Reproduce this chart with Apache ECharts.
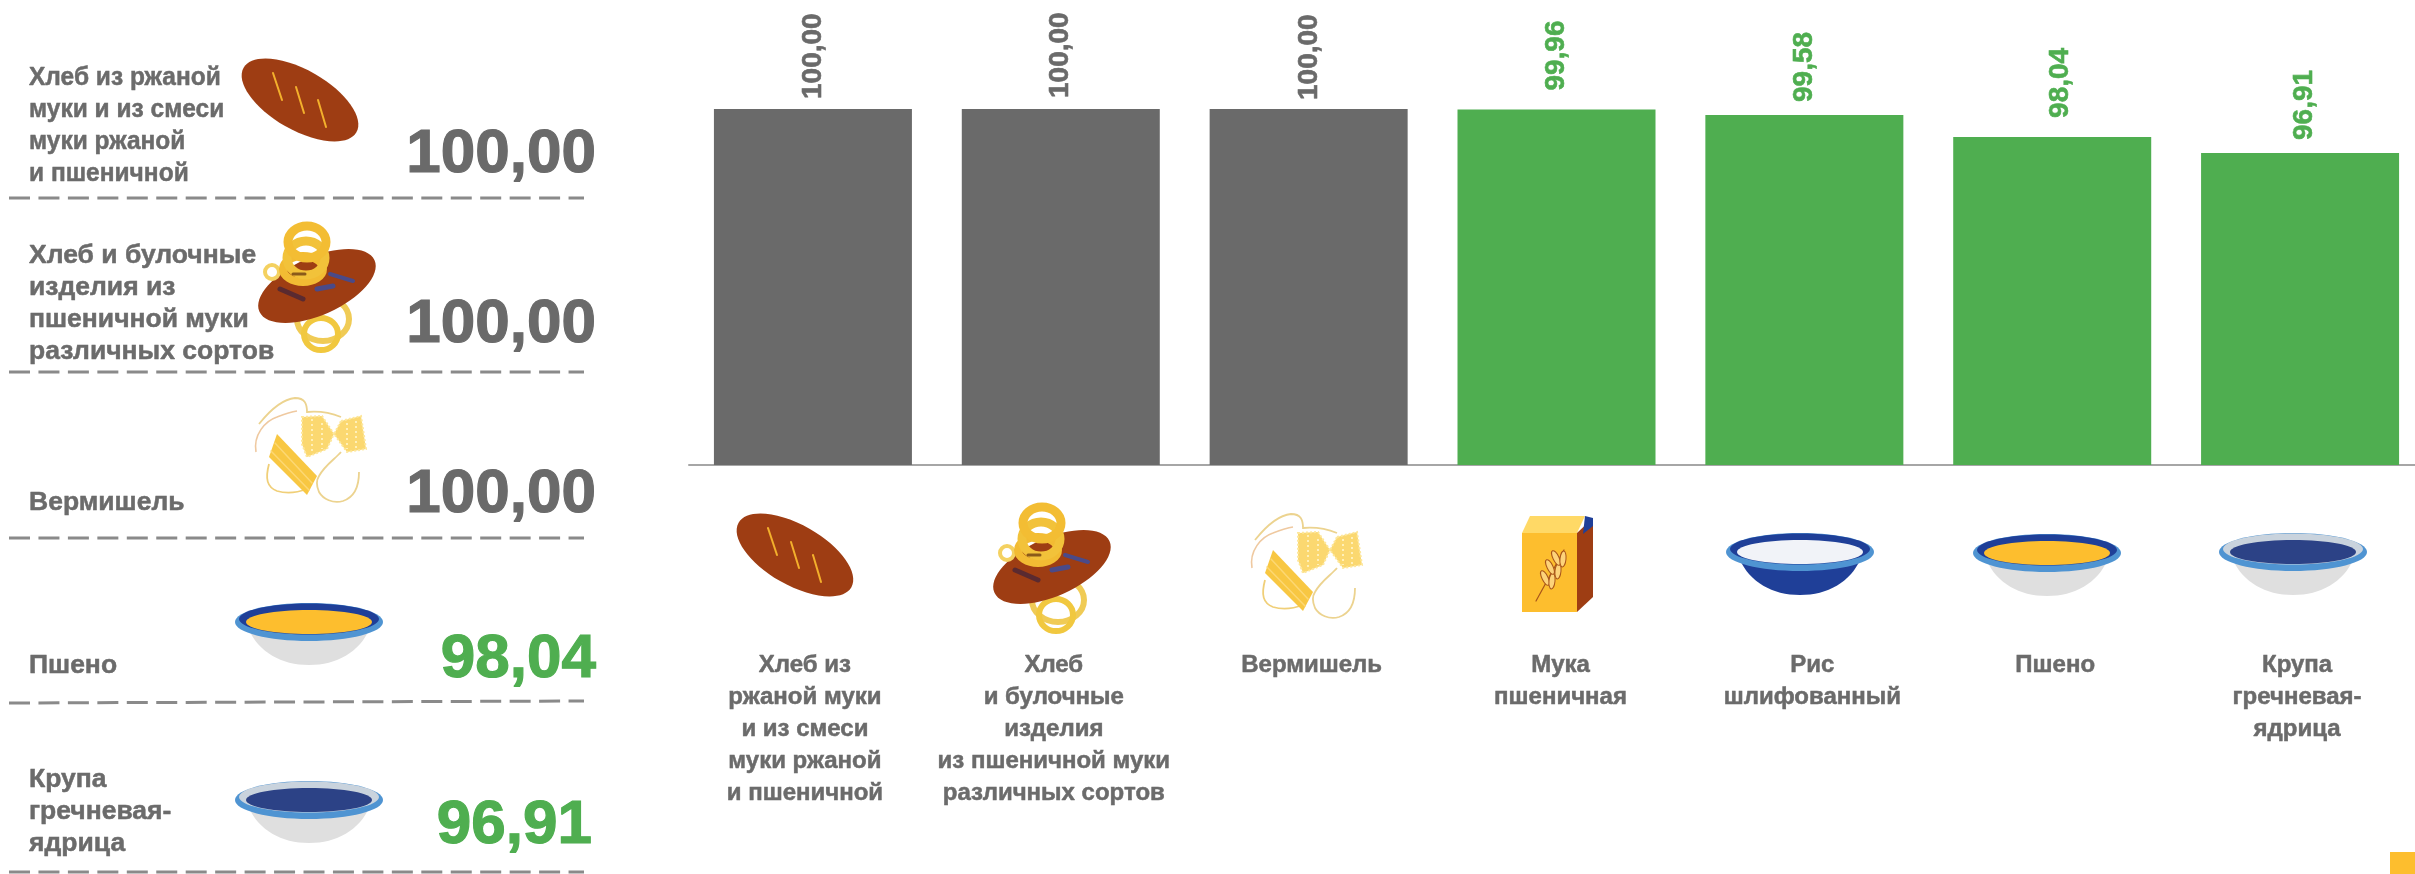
<!DOCTYPE html>
<html lang="ru">
<head>
<meta charset="utf-8">
<style>html,body{margin:0;padding:0;background:#fff}#c{width:2415px;height:874px}</style>
<script src="https://cdn.jsdelivr.net/npm/echarts@6/dist/echarts.min.js"></script>
</head>
<body>
<div id="c"></div>
<script>
const categories = [
  'Хлеб из\nржаной муки\nи из смеси\nмуки ржаной\nи пшеничной',
  'Хлеб\nи булочные\nизделия\nиз пшеничной муки\nразличных сортов',
  'Вермишель',
  'Мука\nпшеничная',
  'Рис\nшлифованный',
  'Пшено',
  'Крупа\nгречневая-\nядрица'
];
const values = [100.00, 100.00, 100.00, 99.96, 99.58, 98.04, 96.91];
const barIcons = ['bread', 'rolls', 'pasta', 'flour', 'rice', 'millet', 'buckwheat'];

const tableNames = [
  'Хлеб из ржаной\nмуки и из смеси\nмуки ржаной\nи пшеничной',
  'Хлеб и булочные\nизделия из\nпшеничной муки\nразличных сортов',
  'Вермишель',
  'Пшено',
  'Крупа\nгречневая-\nядрица'
];
const tableValues = [100.00, 100.00, 100.00, 98.04, 96.91];
const tableIcons = ['bread', 'rolls', 'pasta', 'millet', 'buckwheat'];

const GRAY = '#6a6a6a', GREEN = '#4fae50', TEXT = '#6b6b6b', ORANGE = '#fdbe2e';
const FONT = '"Liberation Sans", Arial, sans-serif';
const fmt = v => v.toFixed(2).replace('.', ',');
const tone = v => v >= 100 ? GRAY : GREEN;

// layout
const labelGaps = [10, 11, 9, 19, 13, 19, 13];
const labelNudge = [0, -1, 1, 0, 0, 8, 4];
const labelShift = [-8, -7, 3, 4, 8, 3, -3];
const barIconPos = [[795,555],[1052,567],[1305,565],[1558,564],[1800,552],[2047,553],[2293,552]];
const tableIconPos = [[300,100],[317,286],[309,449],[309,622],[309,800]];
const nameTop = [62, 240, 487, 650, 764];
const nameScale = [0.925, 1, 1, 1, 1];
const valueBase = [172, 342, 512, 677, 843];
const valueRight = [596, 596, 596, 596, 592];
const ruleY = [198, 372, 538, 703, 872];
const ruleEndY = [198, 372, 538, 701, 872];

let pathCount = 0;
function ell(cx, cy, rx, ry, fill, rot, extra) {
  return Object.assign({ type:'ellipse', x:cx, y:cy, rotation:rot||0, shape:{cx:0,cy:0,rx,ry},
    style:{fill} , silent:true}, extra||{});
}
function ring(cx, cy, rx, ry, stroke, w, rot) {
  return { type:'ellipse', x:cx, y:cy, rotation:rot||0, shape:{cx:0,cy:0,rx,ry},
    style:{fill:'none', stroke, lineWidth:w}, silent:true };
}
function path(d, style) {
  const name = 'iconPath' + (pathCount++);
  echarts.graphic.registerShape(name, echarts.graphic.extendPath(d, {}));
  return { type:name, style:style, silent:true };
}
function seg(x1,y1,x2,y2,stroke,w,dash) {
  return { type:'line', shape:{x1,y1,x2,y2}, style:{stroke,lineWidth:w,lineCap:dash?'butt':'round',lineDash:dash||null}, silent:true };
}
const icons = {
  bread() {
    return [
      ell(0,0,65,30,'#9e3d13',-0.52),
      seg(-27,-27,-18,0,'#f3b02c',2),
      seg(-4,-13,4,13,'#f3b02c',2),
      seg(18,0,26,27,'#f3b02c',2)
    ];
  },
  rolls() {
    return [
      ring(6,33,26,22,'#f0cb55',6),
      ring(4,48,17,16,'#f1c83f',6),
      ell(0,0,63,29,'#9e3d13',0.42),
      seg(-37,3,-14,13,'#5a2a30',5),
      seg(0,3,16,0,'#4a4a88',5),
      seg(13,-12,36,-5,'#4a4a88',4),
      ring(-45,-14,7,7,'#f4d160',4),
      ring(-14,-17,20,13,'#f2bb33',8),
      ring(-11,-28,19,17,'#f2c23a',9),
      ring(-10,-44,19,16,'#f3bd33',9),
      seg(-24,-12,-12,-12,'#8a5a1a',3)
    ];
  },
  pasta() {
    const n = '#ecd38f', p = '#efc9a0';
    return [
      path('M-50 -25C-38 -40 -25 -50 -14 -51C-4 -51 -2 -45 -2 -37C8 -38 22 -36 32 -32', {fill:'none',stroke:n,lineWidth:1.8}),
      path('M-53 3C-56 -14 -44 -28 -32 -32C-24 -35 -18 -37 -12 -38', {fill:'none',stroke:p,lineWidth:1.6}),
      path('M-40 15C-44 30 -42 38 -32 42C-22 45 -10 43 -2 40', {fill:'none',stroke:'#f0cf78',lineWidth:1.8}),
      path('M50 23C50 36 46 48 34 52C24 55 14 50 10 43C7 36 8 30 10 27C16 16 26 10 32 3', {fill:'none',stroke:n,lineWidth:1.8}),
      path('M-7 -32L13 -33L25 -15L18 0L-2 8L-7 -5Z', {fill:'#fbd870', stroke:'#fde79c', lineWidth:2, lineDash:[2,2]}),
      path('M32 -28L52 -33L57 0L38 3L25 -15Z', {fill:'#fbd870', stroke:'#fde79c', lineWidth:2, lineDash:[2,2]}),
      seg(3,-30,3,4,'#fff0b8',2,[2,3]),
      seg(13,-26,13,0,'#fff0b8',2,[2,3]),
      seg(38,-26,38,0,'#fff0b8',2,[2,3]),
      seg(47,-28,47,0,'#fff0b8',2,[2,3]),
      path('M-32 -15L8 27L-2 46L-40 8Z', {fill:'#f8c742'}),
      seg(-34,-6,3,34,'#fdd873',1.5),
      seg(-38,2,0,41,'#fdd873',1.5)
    ];
  },
  flour() {
    const leaf = {style:{fill:'#fdd37a',stroke:'#a8551a',lineWidth:1}};
    return [
      { type:'rect', shape:{x:-36,y:-31,width:55,height:79}, style:{fill:ORANGE}, silent:true },
      { type:'polygon', shape:{points:[[-36,-31],[-28,-48],[27,-48],[19,-31]]}, style:{fill:'#ffd966'}, silent:true },
      { type:'polygon', shape:{points:[[19,-31],[35,-46],[35,33],[19,48]]}, style:{fill:'#9e3d13'}, silent:true },
      { type:'polygon', shape:{points:[[27,-48],[35,-46],[35,-38],[25,-30]]}, style:{fill:'#1f3f98'}, silent:true },
      seg(-22,37,6,-14,'#a8551a',1.2),
      ell(-13,14,3,8,'#fdd37a',0.45,leaf),
      ell(-6,17,3,8,'#fdd37a',-0.1,leaf),
      ell(-8,3,3,8,'#fdd37a',0.45,leaf),
      ell(0,7,3,8,'#fdd37a',-0.1,leaf),
      ell(-2,-6,3,8,'#fdd37a',0.45,leaf),
      ell(5,-5,3,8,'#fdd37a',-0.1,leaf)
    ];
  },
  rice() { return bowl('#1f3f98', '#1f3f98', '#f1f3f8'); },
  millet() { return bowl('#dfdfdf', '#1f3f98', '#fdbe2e'); },
  buckwheat() { return bowl('#dfdfdf', '#c9d3dd', '#2c4286'); }
};
function bowl(body, back, food) {
  return [
    path('M-60 8C-50 30 -28 43 0 43C28 43 50 30 60 8Z', {fill:body}),
    ell(0,0,74,19,'#4f94d2'),
    ell(0,-3,70,15.5,back),
    ell(0,0,63,12,food)
  ];
}
function iconGroup(name, pos) {
  return { type:'group', x:pos[0], y:pos[1], silent:true, children: icons[name]() };
}

const elements = [];
barIcons.forEach((n, i) => elements.push(iconGroup(n, barIconPos[i])));
tableIcons.forEach((n, i) => elements.push(iconGroup(n, tableIconPos[i])));
tableNames.forEach((t, i) => {
  elements.push({ type:'text', x:29, y:nameTop[i], scaleX:nameScale[i], silent:true,
    style:{ text:t, fill:TEXT, font:'bold 26.5px '+FONT, lineHeight:32, textAlign:'left', textVerticalAlign:'top', stroke:TEXT, lineWidth:0.5 } });
  const c = tone(tableValues[i]);
  elements.push({ type:'text', x:valueRight[i], y:valueBase[i]-17, silent:true,
    style:{ text:fmt(tableValues[i]), fill:c, font:'bold 62px '+FONT, textAlign:'right', textVerticalAlign:'middle', stroke:c, lineWidth:1.2 } });
  elements.push({ type:'line', silent:true, shape:{x1:9,y1:ruleY[i],x2:584,y2:ruleEndY[i]},
    style:{ stroke:'#8a8a8a', lineWidth:3, lineDash:[21,8.45] } });
});
elements.push({ type:'rect', silent:true, shape:{x:2390,y:852,width:25,height:22}, style:{fill:ORANGE} });

const rich = {};
labelShift.forEach((s, i) => {
  rich['c'+i] = { fontFamily:FONT, fontWeight:'bold', fontSize:24, lineHeight:32, color:TEXT,
    textBorderColor:TEXT, textBorderWidth:0.5,
    padding: s > 0 ? [0,0,0,2*s] : [0,-2*s,0,0] };
});

const chart = echarts.init(document.getElementById('c'), null, { renderer:'canvas' });
chart.setOption({
  animation:false,
  backgroundColor:'#fff',
  grid:{ left:689, top:109, width:1735, height:356, outerBoundsMode:'none' },
  xAxis:{
    type:'category', data:categories,
    axisTick:{show:false},
    axisLine:{ lineStyle:{ color:'#a6a6a6', width:2 } },
    axisLabel:{
      interval:0, margin:184, verticalAlign:'top', align:'center',
      formatter:(v, i) => v.split('\n').map(l => `{c${i}|${l}}`).join('\n'),
      rich
    }
  },
  yAxis:{ type:'value', min:75, max:100, show:false, splitLine:{show:false} },
  series:[{
    type:'bar', barWidth:198,
    data: values.map((v, i) => ({
      value:v,
      itemStyle:{ color:tone(v) },
      label:{ color:tone(v), textBorderColor:tone(v), textBorderWidth:0.6, distance:labelGaps[i], offset:[0, labelNudge[i]] }
    })),
    label:{
      show:true, position:'top', rotate:90, align:'left', verticalAlign:'middle',
      fontFamily:FONT, fontWeight:'bold', fontSize:28,
      formatter:p => fmt(p.value)
    }
  }],
  graphic:{ elements }
});
</script>
</body>
</html>
